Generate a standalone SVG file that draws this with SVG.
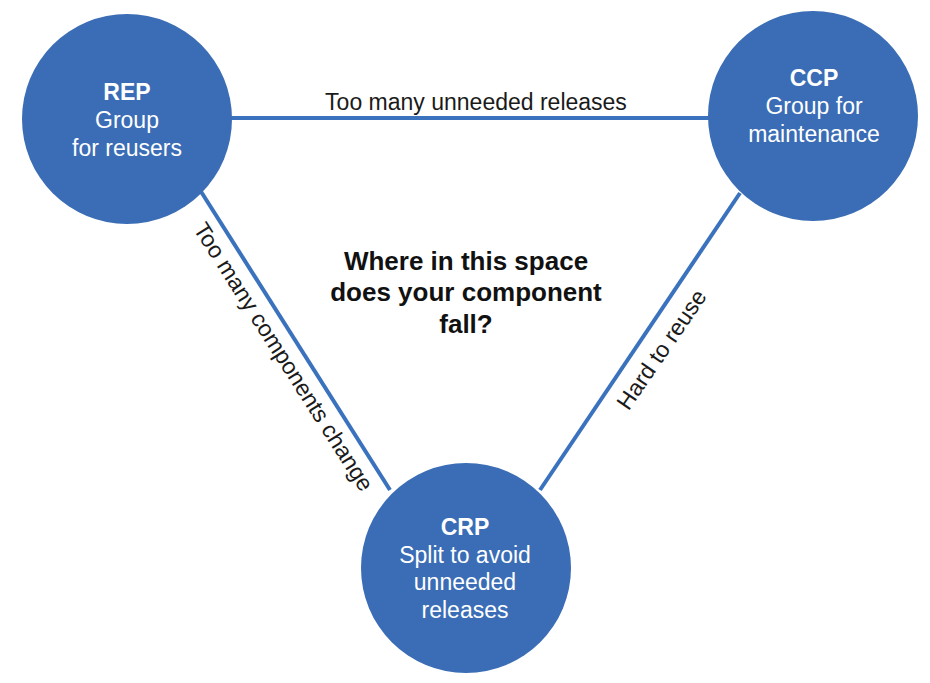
<svg xmlns="http://www.w3.org/2000/svg" width="930" height="683" viewBox="0 0 930 683">
<style>
.node{fill:#3a6db5;}
.nt{font-family:"Liberation Sans",Arial,sans-serif;font-size:23px;fill:#ffffff;text-anchor:middle;}
.edge{stroke:#3a72bd;stroke-width:4;fill:none;}
.lbl{font-family:"Liberation Sans",Arial,sans-serif;font-size:23px;fill:#1a1a1a;text-anchor:middle;}
.q{font-family:"Liberation Sans",Arial,sans-serif;font-size:26px;font-weight:bold;fill:#111;text-anchor:middle;}
</style>
<rect width="930" height="683" fill="#ffffff"/>
<g id="connectors">
  <line class="edge" x1="230" y1="118" x2="710" y2="118"/>
  <line class="edge" x1="200" y1="190" x2="390" y2="490"/>
  <line class="edge" x1="740" y1="193" x2="540" y2="490"/>
  <text class="lbl" x="476" y="110">Too many unneeded releases</text>
  <text class="lbl" transform="translate(277,361) rotate(57.5)">Too many components change</text>
  <text class="lbl" transform="translate(668,354) rotate(-55.5)">Hard to reuse</text>
</g>
<g id="REP">
  <circle class="node" cx="127" cy="119" r="105"/>
  <text class="nt" x="127" y="100"><tspan style="font-weight:bold">REP</tspan><tspan x="127" dy="28">Group</tspan><tspan x="127" dy="28">for reusers</tspan></text>
</g>
<g id="CCP">
  <circle class="node" cx="813" cy="116" r="105"/>
  <text class="nt" x="814" y="86"><tspan style="font-weight:bold">CCP</tspan><tspan x="814" dy="28">Group for</tspan><tspan x="814" dy="28">maintenance</tspan></text>
</g>
<g id="CRP">
  <circle class="node" cx="466" cy="568" r="105"/>
  <text class="nt" x="465" y="535"><tspan style="font-weight:bold">CRP</tspan><tspan x="465" dy="27.5">Split to avoid</tspan><tspan x="465" dy="27.5">unneeded</tspan><tspan x="465" dy="27.5">releases</tspan></text>
</g>
<g id="question">
  <text class="q" x="466" y="270">Where in this space</text>
  <text class="q" x="466" y="301">does your component</text>
  <text class="q" x="466" y="333">fall?</text>
</g>
</svg>
